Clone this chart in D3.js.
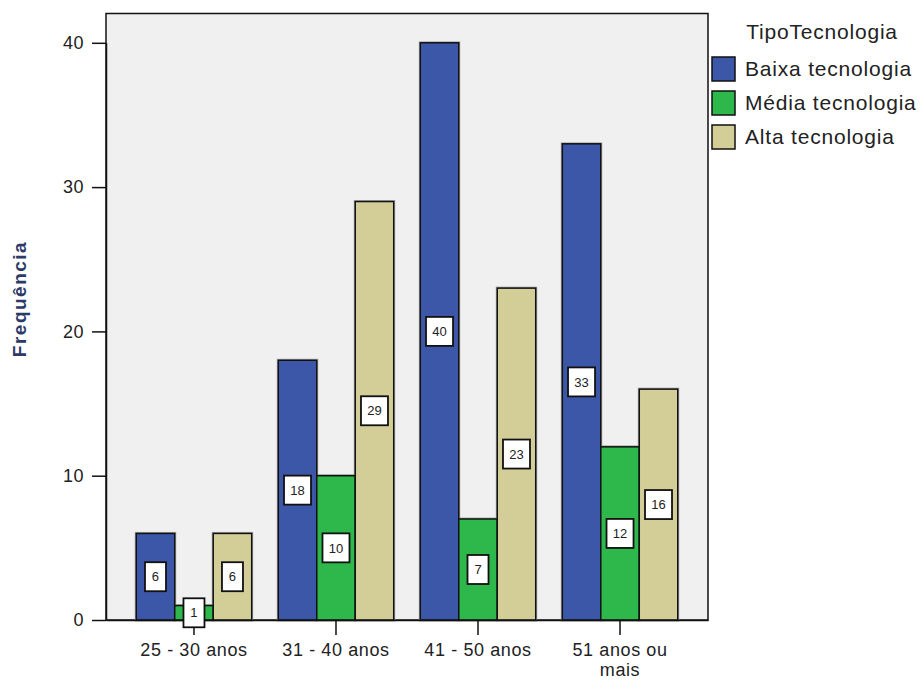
<!DOCTYPE html>
<html><head><meta charset="utf-8">
<script src="https://cdn.jsdelivr.net/npm/d3@7"></script>
<style>
html,body{margin:0;padding:0;background:#fff;}
svg{display:block;}
text{font-family:"Liberation Sans",Arial,sans-serif;}
</style></head>
<body>
<svg id="chart" width="922" height="681"></svg>
<script>
const categories = ["25 - 30 anos", "31 - 40 anos", "41 - 50 anos", "51 anos ou mais"];
const categoryLines = [["25 - 30 anos"], ["31 - 40 anos"], ["41 - 50 anos"], ["51 anos ou", "mais"]];
const seriesNames = ["Baixa tecnologia", "Média tecnologia", "Alta tecnologia"];
const baixa = [6, 18, 40, 33];
const media = [1, 10, 7, 12];
const alta = [6, 29, 23, 16];
const yTicks = [0, 10, 20, 30, 40];
const colors = ["#3C56A8", "#2EB84C", "#D3CE97"];
const legendTitle = "TipoTecnologia";
const yTitle = "Frequência";

const seriesValues = [baixa, media, alta];
const svg = d3.select("#chart");
const L = 106, R = 708, T = 13.5, B = 620;

const y = d3.scaleLinear().domain([0, 40]).range([B, B - 40 * 14.43]);
const x0 = d3.scaleBand().domain(categories).range([L, R]).paddingInner(0.187).paddingOuter(0.213);
const x1 = d3.scaleBand().domain(seriesNames).range([0, x0.bandwidth()]).padding(0);

// plot background
svg.append("rect").attr("x", L).attr("y", T).attr("width", R - L).attr("height", B - T)
  .attr("fill", "#F0F0F0").attr("stroke", "#111").attr("stroke-width", 1.5);

// bars
const rows = [];
categories.forEach((c, i) => seriesNames.forEach((s, j) => rows.push({c, s, j, v: seriesValues[j][i]})));

const gBars = svg.append("g");
gBars.selectAll("rect.halo").data(rows).join("rect")
  .attr("x", d => x0(d.c) + x1(d.s)).attr("y", d => y(d.v))
  .attr("width", x1.bandwidth()).attr("height", d => B - y(d.v))
  .attr("fill", "none").attr("stroke", "#aaa").attr("stroke-width", 3);
gBars.selectAll("rect.bar").data(rows).join("rect")
  .attr("x", d => x0(d.c) + x1(d.s)).attr("y", d => y(d.v))
  .attr("width", x1.bandwidth()).attr("height", d => B - y(d.v))
  .attr("fill", d => colors[d.j]).attr("stroke", "#111").attr("stroke-width", 1.5);

// axes
const yAxis = d3.axisLeft(y).tickValues(yTicks).tickSize(14).tickSizeOuter(0).tickPadding(8);
const gy = svg.append("g").attr("transform", `translate(${L},0)`).call(yAxis);
gy.select(".domain").attr("stroke", "#111").attr("stroke-width", 1.5);
gy.selectAll(".tick line").attr("stroke", "#111").attr("stroke-width", 1.5);
gy.selectAll(".tick text").attr("font-size", 18).attr("fill", "#222")
  .attr("font-family", "'Liberation Sans',Arial,sans-serif").attr("letter-spacing", 0.5);

const xAxis = d3.axisBottom(x0).tickSize(15).tickSizeOuter(0).tickPadding(8).tickFormat(() => "");
const gx = svg.append("g").attr("transform", `translate(0,${B})`).call(xAxis);
gx.select(".domain").attr("stroke", "#111").attr("stroke-width", 1.5);
gx.selectAll(".tick line").attr("stroke", "#111").attr("stroke-width", 1.5);
gx.selectAll(".tick").each(function(d, i) {
  const t = d3.select(this).select("text").text(null).attr("font-size", 18).attr("fill", "#222")
    .attr("font-family", "'Liberation Sans',Arial,sans-serif").attr("letter-spacing", 0.6);
  categoryLines[i].forEach((ln, k) => t.append("tspan").attr("x", 0).attr("dy", k === 0 ? "0.71em" : "1.12em").text(ln));
});

// value labels
const gLab = svg.append("g");
rows.forEach(d => {
  const cx = x0(d.c) + x1(d.s) + x1.bandwidth() / 2;
  const cy = y(d.v / 2);
  const w = String(d.v).length > 1 ? 27 : 21;
  const h = 29;
  gLab.append("rect").attr("x", cx - w / 2).attr("y", cy - h / 2).attr("width", w).attr("height", h)
    .attr("fill", "#fff").attr("stroke", "#111").attr("stroke-width", 1.8);
  gLab.append("text").attr("x", cx).attr("y", cy).attr("dy", "0.36em").attr("text-anchor", "middle")
    .attr("font-size", 13).attr("fill", "#222").text(d.v);
});

// y title
svg.append("text").attr("transform", "translate(26,299) rotate(-90)").attr("text-anchor", "middle")
  .attr("font-size", 19).attr("font-weight", "bold").attr("fill", "#2b3a67").attr("letter-spacing", 1.5)
  .text(yTitle);

// legend
const lg = svg.append("g");
lg.append("text").attr("x", 822).attr("y", 39).attr("text-anchor", "middle").attr("font-size", 21)
  .attr("fill", "#222").attr("letter-spacing", 0.8).text(legendTitle);
seriesNames.forEach((s, j) => {
  const yy = 57 + j * 34;
  lg.append("rect").attr("x", 712).attr("y", yy).attr("width", 23).attr("height", 24)
    .attr("fill", colors[j]).attr("stroke", "#111").attr("stroke-width", 1.5);
  lg.append("text").attr("x", 745).attr("y", yy + 19).attr("font-size", 21).attr("fill", "#222")
    .attr("letter-spacing", 0.8).text(s);
});
</script>
</body></html>
